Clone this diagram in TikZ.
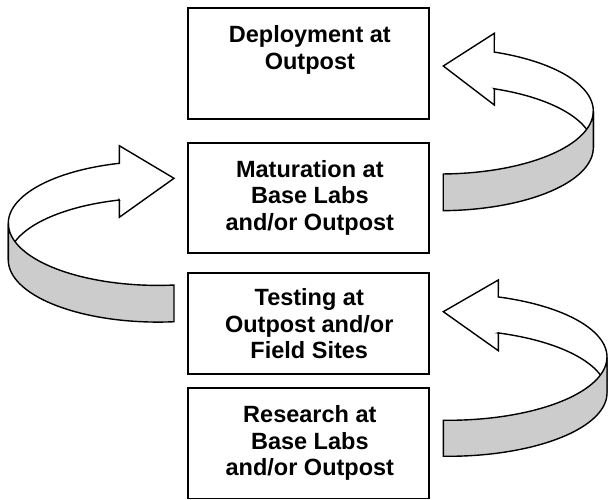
\documentclass[tikz,border=0pt]{standalone}
\usepackage{fontspec}
\setmainfont{Liberation Sans}
\usetikzlibrary{calc}
\definecolor{bandgray}{HTML}{CCCCCC}
\begin{document}
\begin{tikzpicture}[x=1pt,y=-1pt,
  stagebox/.style={draw, line width=1.8pt, minimum width=240.7pt, inner sep=0pt},
  stagetext/.style={anchor=north, inner sep=0pt, align=center, font=\fontsize{23.5}{26.8}\selectfont\bfseries},
  ribbon/.style={draw, line width=1.4pt, line join=miter, fill=white},
  band/.style={draw, line width=1.4pt, line join=miter, fill=bandgray}]
\useasboundingbox (0,0) rectangle (608,500);

% stage boxes
\node[stagebox, minimum height=111pt]   (b1) at (308.65,63.5)   {};
\node[stagebox, minimum height=110.3pt] (b2) at (308.65,197.85) {};
\node[stagebox, minimum height=101pt]   (b3) at (308.65,323.5)  {};
\node[stagebox, minimum height=110.5pt] (b4) at (308.65,443.25) {};

\node[stagetext] (t1) at ($(b1.north)+(1.2,18.5)$) {Deployment at\\Outpost};
\node[stagetext] (t2) at ($(b2.north)+(1.2,18)$) {Maturation at\\Base Labs\\and/or Outpost};
\node[stagetext] (t3) at ($(b3.north)+(0.6,16)$) {Testing at\\Outpost and/or\\Field Sites};
\node[stagetext] (t4) at ($(b4.north)+(1.2,18)$) {Research at\\Base Labs\\and/or Outpost};

% upper right curved arrow (Maturation -> Deployment)
\draw[ribbon] (494.3,33.3) -- (443.3,66) -- (494.3,105) -- (494.3,88.8)
  -- plot[domain=-69.26:0, samples=40] ({440+153.3*cos(\x)},{147.7+63*sin(\x)})
  -- plot[domain=0:-69.26, samples=40] ({440+153.3*cos(\x)},{111+63*sin(\x)})
  -- cycle;
\draw[band] plot[domain=0:88.77, samples=40] ({440+153.3*cos(\x)},{111+63*sin(\x)})
  -- plot[domain=88.77:0, samples=40] ({440+153.3*cos(\x)},{147.7+63*sin(\x)})
  -- cycle;

% left curved arrow (Testing -> Maturation)
\draw[ribbon] (119.3,145.7) -- (174,178.3) -- (119.3,217.3) -- (119.3,200)
  -- plot[domain=-104.98:-180, samples=40] ({158+149.7*cos(\x)},{260+62.1*sin(\x)})
  -- plot[domain=-180:-104.98, samples=40] ({158+149.7*cos(\x)},{223.3+62.1*sin(\x)})
  -- cycle;
\draw[band] plot[domain=180:83.86, samples=40] ({158+149.7*cos(\x)},{223.3+62.1*sin(\x)})
  -- plot[domain=83.86:180, samples=40] ({158+149.7*cos(\x)},{260+62.1*sin(\x)})
  -- cycle;

% lower right curved arrow (Research -> Testing)
\draw[ribbon] (498.3,280) -- (443.3,311.7) -- (498.3,350.7) -- (498.3,332.95)
  -- plot[domain=-71.56:0, samples=40] ({448+159*cos(\x)},{393+63.3*sin(\x)})
  -- plot[domain=0:-71.56, samples=40] ({448+159*cos(\x)},{357+63.3*sin(\x)})
  -- cycle;
\draw[band] plot[domain=0:91.69, samples=40] ({448+159*cos(\x)},{357+63.3*sin(\x)})
  -- plot[domain=91.69:0, samples=40] ({448+159*cos(\x)},{393+63.3*sin(\x)})
  -- cycle;
\end{tikzpicture}
\end{document}
